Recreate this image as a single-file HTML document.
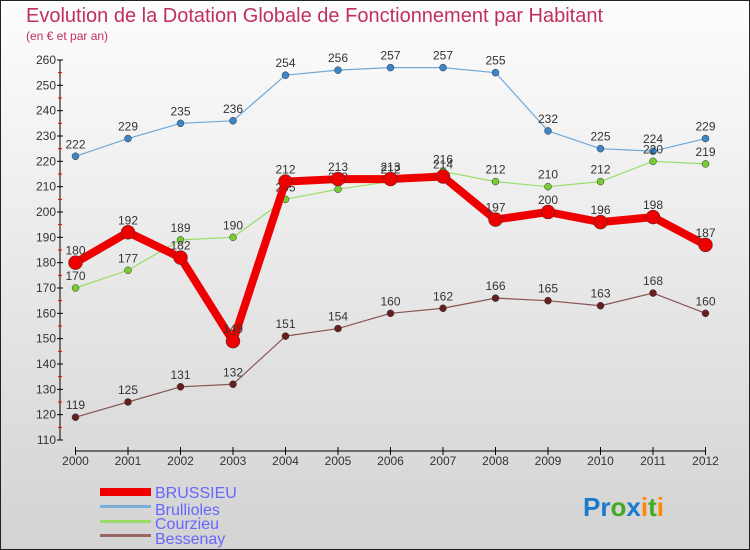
<!DOCTYPE html>
<html><head><meta charset="utf-8"><style>
body{margin:0}
#c{width:750px;height:550px;position:relative;box-sizing:border-box;border:1px solid #222;background:linear-gradient(#fdfdfd,#d3d3d3);font-family:"Liberation Sans",sans-serif;overflow:hidden}
</style></head><body>
<div id="c">
<svg width="750" height="550" id="svg" style="position:absolute;left:-1px;top:-1px">
<text x="26" y="22" font-size="20" fill="#c0305a">Evolution de la Dotation Globale de Fonctionnement par Habitant</text>
<text x="26" y="40" font-size="12" fill="#c0305a">(en € et par an)</text>
<g id="axes"></g><g id="series"></g>
<g>
<rect x="100" y="488" width="51" height="8" fill="#e00"/>
<text x="155" y="498" font-size="16" fill="#6666ff">BRUSSIEU</text>
<rect x="100" y="505" width="51" height="3" fill="#7aaed6"/>
<text x="155" y="515" font-size="16" fill="#6666ff">Brullioles</text>
<rect x="100" y="520" width="51" height="3" fill="#99dd66"/>
<text x="155" y="529" font-size="16" fill="#6666ff">Courzieu</text>
<rect x="100" y="534" width="51" height="3" fill="#996666"/>
<text x="155" y="544" font-size="16" fill="#6666ff">Bessenay</text>
</g>
<text x="583" y="516" font-size="26" font-weight="bold"><tspan fill="#1a7acc">Pr</tspan><tspan fill="#44aa22">o</tspan><tspan fill="#1a7acc">x</tspan><tspan fill="#ff8800">i</tspan><tspan fill="#44aa22">t</tspan><tspan fill="#ff8800">i</tspan></text>
</svg>
</div>
<script>
const years=[2000,2001,2002,2003,2004,2005,2006,2007,2008,2009,2010,2011,2012];
const brussieu=[180,192,182,149,212,213,213,214,197,200,196,198,187];
const brullioles=[222,229,235,236,254,256,257,257,255,232,225,224,229];
const courzieu=[170,177,189,190,205,209,212,216,212,210,212,220,219];
const bessenay=[119,125,131,132,151,154,160,162,166,165,163,168,160];
const yTicks=[110,120,130,140,150,160,170,180,190,200,210,220,230,240,250,260];
const NS="http://www.w3.org/2000/svg";
const x=i=>75.5+i*(705.5-75.5)/(years.length-1);
const y=v=>440-(v-110)*380/150;
function mk(t,a,p){const e=document.createElementNS(NS,t);for(const k in a)e.setAttribute(k,a[k]);p.appendChild(e);return e;}
const ax=document.getElementById('axes'),sg=document.getElementById('series');
let l=mk('line',{x1:60,y1:y(260),x2:60,y2:y(110),stroke:'#000'},ax);


l=mk('line',{x1:75,y1:451,x2:706,y2:451,stroke:'#000'},ax);


yTicks.forEach(v=>{
 mk('line',{x1:57,x2:63,y1:y(v),y2:y(v),stroke:'#000'},ax);
 if(v<260)mk('line',{x1:58,x2:62,y1:y(v+5),y2:y(v+5),stroke:'#e00'},ax);
 const t=mk('text',{x:56,y:y(v)+4,'font-size':12,fill:'#333','text-anchor':'end'},ax);t.textContent=v;
 
 
});
years.forEach((yr,i)=>{
 mk('line',{x1:x(i),x2:x(i),y1:447,y2:455,stroke:'#000'},ax);
 const t=mk('text',{x:x(i),y:465,'font-size':12,fill:'#333','text-anchor':'middle'},ax);t.textContent=yr;
 
 
});
function series(data,name,color,dot,w,r){
 const g=mk('g',{},sg);
 
 
 mk('polyline',{points:data.map((v,i)=>x(i)+','+y(v)).join(' '),fill:'none',stroke:color,'stroke-width':w,'stroke-linejoin':'round'},g);
 data.forEach((v,i)=>{
  const c=mk('circle',{cx:x(i),cy:y(v),r:r,fill:dot,stroke:'#333','stroke-width':0.5},g);
  
  
  const t=mk('text',{x:x(i),y:y(v)-8,'font-size':12,fill:'#333','text-anchor':'middle'},g);t.textContent=v;
  
  
 });
}
series(brullioles,'brullioles','#6fa8d8','#3a86c8',1.2,3.5);
series(courzieu,'courzieu','#99dd66','#77cc33',1.2,3.5);
series(bessenay,'bessenay','#885555','#661f1f',1.2,3.5);
series(brussieu,'brussieu','#ee0000','#ee0000',8,7);
</script>
</body></html>
